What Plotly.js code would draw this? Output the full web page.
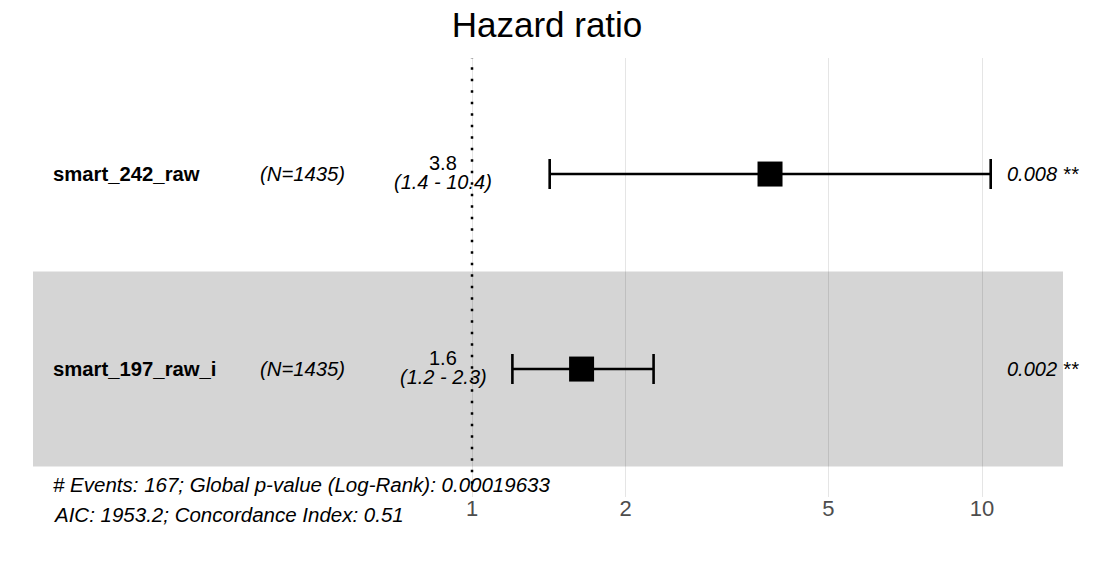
<!DOCTYPE html>
<html>
<head>
<meta charset="utf-8">
<script src="https://cdn.plot.ly/plotly-3.0.1.min.js"></script>
<style>html,body{margin:0;padding:0;background:#fff;}#chart{width:1106px;height:562px;}</style>
</head>
<body>
<div id="chart"></div>
<script>
// ---- data ----
const variables = ["smart_242_raw", "smart_197_raw_i"];
const nObs = [1435, 1435];
const hazardRatio = [3.84, 1.64];
const ciLower = [1.42, 1.2];
const ciUpper = [10.4, 2.27];
const pValues = ["0.008", "0.002"];
const pStars = ["**", "**"];
const rowPos = [2, 1];
const tickVals = [1, 2, 5, 10];
const tickText = ["1", "2", "5", "10"];
const nEvents = 167;
const globalP = "0.00019633";
const aic = "1953.2";
const concordance = "0.51";

const FONT = "Liberation Sans, Arial, sans-serif";

const trace = {
  type: "scatter",
  mode: "markers",
  x: hazardRatio,
  y: rowPos,
  marker: {symbol: "square", size: 25, color: "#000"},
  error_x: {
    type: "data", symmetric: false,
    array: hazardRatio.map((h, i) => ciUpper[i] - h),
    arrayminus: hazardRatio.map((h, i) => h - ciLower[i]),
    color: "#000", thickness: 2.6, width: 15
  },
  hoverinfo: "skip",
  showlegend: false
};

const annotations = [];
variables.forEach((v, i) => {
  const y = rowPos[i];
  annotations.push({xref: "paper", yref: "y", x: (51 - 33) / 1030, y: y, xanchor: "left", yanchor: "middle",
    text: "<b>" + v + "</b>", showarrow: false, font: {family: FONT, size: 20.3, color: "#000"}});
  annotations.push({xref: "paper", yref: "y", x: (302 - 33) / 1030, y: y, xanchor: "center", yanchor: "middle",
    text: "<i>(N=" + nObs[i] + ")</i>", showarrow: false, font: {family: FONT, size: 20.3, color: "#000"}});
  annotations.push({xref: "paper", yref: "y", x: (443 - 33) / 1030, y: y, yshift: 11, xanchor: "center", yanchor: "middle",
    text: hazardRatio[i].toFixed(1), showarrow: false, font: {family: FONT, size: 20, color: "#000"}});
  annotations.push({xref: "paper", yref: "y", x: (443 - 33) / 1030, y: y, yshift: -8, xanchor: "center", yanchor: "middle",
    text: "<i>(" + ciLower[i].toFixed(1) + " - " + ciUpper[i].toFixed(1) + ")</i>", showarrow: false,
    font: {family: FONT, size: 20, color: "#000"}});
  annotations.push({xref: "paper", yref: "y", x: (1081 - 33) / 1030, y: y, xanchor: "right", yanchor: "middle",
    text: "<i>" + pValues[i] + " " + pStars[i] + "</i>", showarrow: false, font: {family: FONT, size: 20, color: "#000"}});
});
annotations.push({xref: "paper", yref: "paper", x: (51 - 33) / 1030, y: (497 - 484) / 439, xanchor: "left", yanchor: "middle",
  text: "<i># Events: " + nEvents + "; Global p-value (Log-Rank): " + globalP + "</i>", showarrow: false,
  font: {family: FONT, size: 20.5, color: "#000"}});
annotations.push({xref: "paper", yref: "paper", x: (51 - 33) / 1030, y: (497 - 514) / 439, xanchor: "left", yanchor: "middle",
  text: "<i>AIC: " + aic + "; Concordance Index: " + concordance + "</i>", showarrow: false,
  font: {family: FONT, size: 20.5, color: "#000"}});

const shapes = [
  {type: "rect", layer: "below", xref: "paper", yref: "y", x0: 0, x1: 1, y0: 0.5, y1: 1.5,
   fillcolor: "#d5d5d5", line: {width: 0}},
  {type: "line", layer: "above", xref: "x", yref: "paper", x0: 1, x1: 1, y0: 0.03, y1: 1,
   line: {color: "#000", width: 2.5, dash: "2.5px,9px"}}
];

const layout = {
  width: 1106, height: 562,
  margin: {l: 33, r: 43, t: 58, b: 65, pad: 0},
  paper_bgcolor: "#fff", plot_bgcolor: "rgba(0,0,0,0)",
  title: {text: "Hazard ratio", x: 547 / 1106, xanchor: "center", y: 1 - 25 / 562, yanchor: "middle",
          font: {family: FONT, size: 35, color: "#000"}},
  xaxis: {type: "log", range: [-0.8608, 1.1588], tickvals: tickVals, ticktext: tickText,
          showgrid: true, gridcolor: "rgba(0,0,0,0.1)", gridwidth: 1, zeroline: false, showline: false,
          ticks: "", ticklabelstandoff: -4, tickfont: {family: FONT, size: 22, color: "#4d4d4d"}, fixedrange: true},
  yaxis: {range: [0.344, 2.595], showgrid: false, zeroline: false, showline: false,
          showticklabels: false, ticks: "", fixedrange: true},
  shapes: shapes,
  annotations: annotations,
  showlegend: false
};

Plotly.newPlot("chart", [trace], layout, {displayModeBar: false, staticPlot: true});
</script>
</body>
</html>
